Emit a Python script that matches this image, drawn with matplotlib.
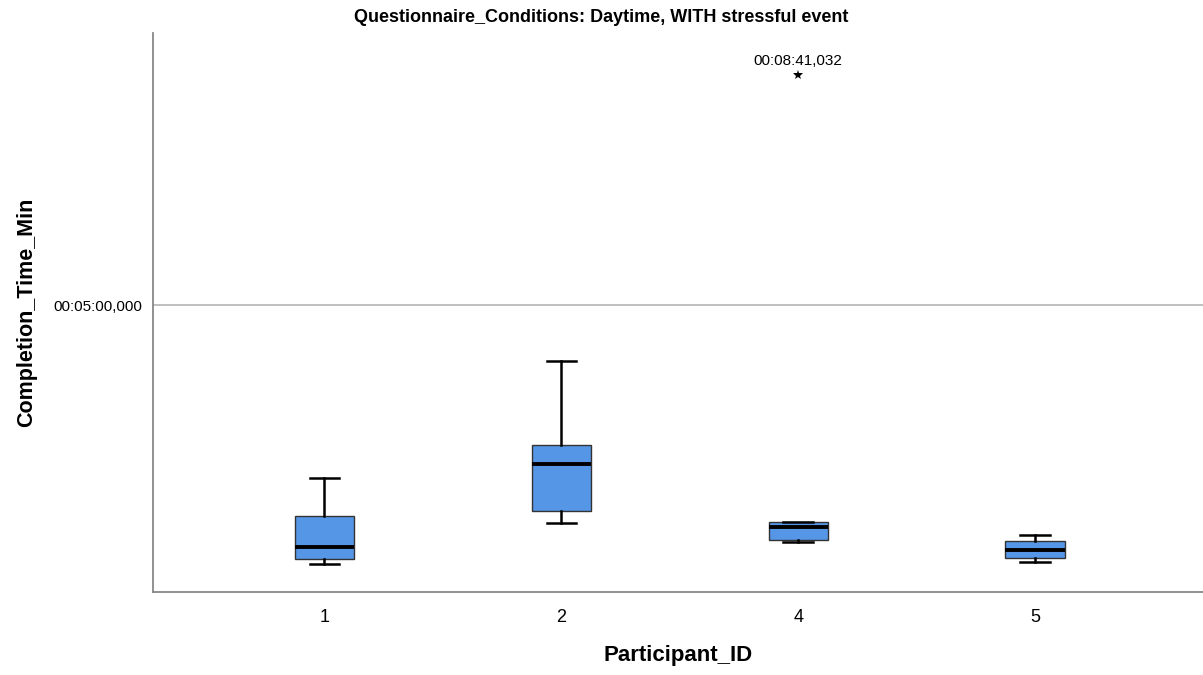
import matplotlib.pyplot as plt

plt.rcParams['font.family'] = ['Liberation Sans', 'DejaVu Sans']

# Completion time in seconds
participants = ['1', '2', '4', '5']
whisker_low = [51.1, 90.2, 71.9, 53.3]
q1 = [55.6, 102.0, 74.2, 57.2]
median = [67.2, 147.2, 86.4, 64.6]
q3 = [97.5, 165.5, 91.2, 73.5]
whisker_high = [134.0, 246.5, 91.2, 79.3]
outliers = [[], [], [521.032], []]
outlier_labels = [[], [], ['00:08:41,032'], []]


def fmt_time(sec):
    m, s = divmod(sec, 60)
    h, m = divmod(int(m), 60)
    return '%02d:%02d:%02d,%03d' % (h, m, int(s), round((s - int(s)) * 1000))


stats = []
for i in range(len(participants)):
    stats.append({'whislo': whisker_low[i], 'q1': q1[i], 'med': median[i],
                  'q3': q3[i], 'whishi': whisker_high[i], 'fliers': []})

fig = plt.figure(figsize=(12.03, 6.75), dpi=100)
ax = fig.add_axes([153 / 1203, 1 - 592 / 675, 1050 / 1203, 559 / 675])

pos = list(range(len(participants)))
ax.bxp(stats, positions=pos, widths=0.25, patch_artist=True, showfliers=False,
       boxprops=dict(facecolor='#5596e6', edgecolor='#333333', linewidth=1.0),
       medianprops=dict(color='black', linewidth=2.8),
       whiskerprops=dict(color='black', linewidth=1.8),
       capprops=dict(color='black', linewidth=1.8), capwidths=0.125)

# extreme values drawn as stars with their time label
for i, vals in enumerate(outliers):
    for j, v in enumerate(vals):
        ax.plot(pos[i], v, marker='*', color='black', markersize=7.5,
                markeredgewidth=0, linestyle='none')
        ax.annotate(outlier_labels[i][j], (pos[i], v), xytext=(0, 5),
                    textcoords='offset points', ha='center', va='bottom', fontsize=11)

ax.set_xlim(-0.724, 3.709)
ax.set_ylim(24.2, 561.4)
ax.axhline(300, color='#b4b4b4', linewidth=1.2, zorder=0)
ax.set_yticks([300])
ax.set_yticklabels([fmt_time(300)], fontsize=11)
ax.set_xticks(pos)
ax.set_xticklabels(participants, fontsize=13)
ax.tick_params(axis='both', length=0)
ax.tick_params(axis='x', pad=12)
ax.tick_params(axis='y', pad=8)

for side in ['top', 'right']:
    ax.spines[side].set_visible(False)
for side in ['left', 'bottom']:
    ax.spines[side].set_color('#888888')
    ax.spines[side].set_linewidth(1.3)

ax.set_xlabel('Participant_ID', fontsize=16, fontweight='bold', labelpad=14)
ax.set_ylabel('Completion_Time_Min', fontsize=15.5, fontweight='bold')
ax.yaxis.set_label_coords(-116 / 1050, 0.5)
fig.text(0.5, 1 - 17 / 675, 'Questionnaire_Conditions: Daytime, WITH stressful event',
         ha='center', va='center', fontsize=13, fontweight='bold')

fig.savefig('out.png', dpi=100)
